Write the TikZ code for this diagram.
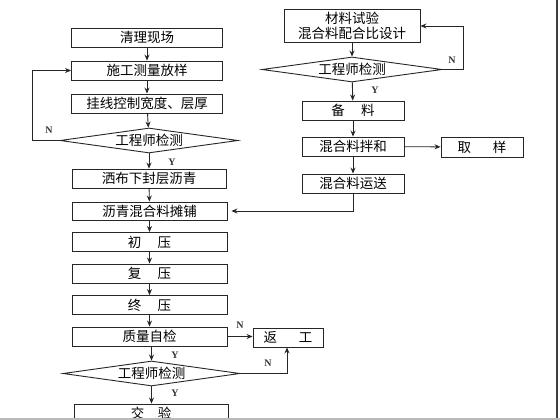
\documentclass[tikz,border=0pt]{standalone}
\usepackage{fontspec}
\setmainfont{Liberation Serif}
\newfontfamily\cjk{Noto Sans CJK SC}
\usetikzlibrary{shapes.geometric,arrows.meta}
\begin{document}
\begin{tikzpicture}[x=1pt,y=-1pt,
  box/.style={draw=black!85,line width=0.9pt,rectangle,inner sep=0pt,minimum width=154pt,minimum height=19pt,font=\cjk\fontsize{13.5pt}{15pt}\selectfont,align=center},
  dia/.style={draw=black!85,line width=0.9pt,diamond,aspect=7,inner sep=0pt,minimum width=178pt,minimum height=25pt,font=\cjk\fontsize{13.5pt}{15pt}\selectfont},
  arr/.style={draw=black!85,line width=0.9pt,-{Stealth[length=6pt,width=5pt]}},
  lab/.style={font=\bfseries\fontsize{10pt}{11pt}\selectfont,text=black!80,inner sep=0pt}]
\useasboundingbox (0,0) rectangle (560,420);
\fill[white] (0,0) rectangle (560,420);
% left column
\node[box,minimum width=151pt] (b1) at (147,37.5) {清理现场};
\node[box,minimum width=151pt] (b2) at (147,70.5) {施工测量放样};
\node[box,minimum width=151pt] (b3) at (147,103.5) {挂线控制宽度、层厚};
\node[dia] (d1) at (149,140.5) {工程师检测};
\node[box] (b4) at (149,178.5) {洒布下封层沥青};
\node[box,minimum width=155pt,minimum height=18pt] (b5) at (149.5,211) {沥青混合料摊铺};
\node[box,minimum width=155pt] (b6) at (149.5,242) {初\hspace{1.2em}压};
\node[box,minimum width=155pt] (b7) at (149.5,273.5) {复\hspace{1.2em}压};
\node[box,minimum width=155pt] (b8) at (149.5,305) {终\hspace{1.2em}压};
\node[box,minimum width=155pt] (b9) at (149.5,336.5) {质量自检};
\node[dia,minimum width=177pt] (d2) at (151.5,373.5) {工程师检测};
\node[box] (b10) at (151,413.5) {交\hspace{1em}验};
% right column
\node[box,minimum width=136pt,minimum height=33pt,font=\cjk\fontsize{13.5pt}{15pt}\selectfont] (r1) at (352,25.5) {材料试验\\混合料配合比设计};
\node[dia,minimum width=180pt] (rd) at (352,69.5) {工程师检测};
\node[box,minimum width=102pt] (r2) at (353,110.5) {备\hspace{1.2em}料};
\node[box,minimum width=102pt] (r3) at (353,146.5) {混合料拌和};
\node[box,minimum width=82pt,minimum height=20pt] (r4) at (482,147) {取\hspace{1.6em}样};
\node[box,minimum width=102pt] (r5) at (353,183.5) {混合料运送};
\node[box,minimum width=70pt] (rw) at (288,337.5) {返\hspace{1.6em}工};
% corner coordinates
\coordinate (c1) at (32,140.5);
\coordinate (c2) at (32,70.5);
\coordinate (c3) at (463,69.5);
\coordinate (c4) at (463,26);
\coordinate (c5) at (353,211);
\coordinate (c6) at (287,373.5);
% connectors left
\draw[arr] (b1) -- (b2);
\draw[arr] (b2) -- (b3);
\draw[arr] (b3) -- (d1);
\draw[arr] (d1) -- (b4);
\draw[arr] (b4) -- (b5);
\draw[arr] (b5) -- (b6);
\draw[arr] (b6) -- (b7);
\draw[arr] (b7) -- (b8);
\draw[arr] (b8) -- (b9);
\draw[arr] (b9.south -| d2) -- (d2);
\draw[arr] (d2) -- (d2.south |- b10.north);
\draw[arr] (d1.west) -- (c1) -- (c2) -- (b2.west);
% connectors right
\draw[arr] (r1) -- (rd);
\draw[arr] (rd) -- (r2);
\draw[arr] (r2) -- (r3);
\draw[arr] (r3) -- (r5);
\draw[arr] (r3) -- (r4);
\draw[arr] (rd.east) -- (c3) -- (c4) -- (r1.east |- c4);
\draw[arr] (r5.south) -- (c5) -- ([xshift=4pt]b5.east);
\draw[arr] (b9.east) -- (rw.west |- b9.east);
\draw[arr] (d2.east) -- (c6) -- (rw.south -| c6);
% labels
\node[lab] (n1) at (49,130) {N};
\node[lab] (y1) at (172,162) {Y};
\node[lab] (n2) at (452,60) {N};
\node[lab] (y2) at (375,90) {Y};
\node[lab] (n3) at (240,325) {N};
\node[lab] (y3) at (175,355) {Y};
\node[lab] (n4) at (268,363) {N};
\node[lab] (y4) at (175,393) {Y};
% frame
\draw[black!75,line width=1.2pt] (557,0) -- (557,418);
\fill[gray!55] (0,417.5) rectangle (560,420);
\end{tikzpicture}
\end{document}
